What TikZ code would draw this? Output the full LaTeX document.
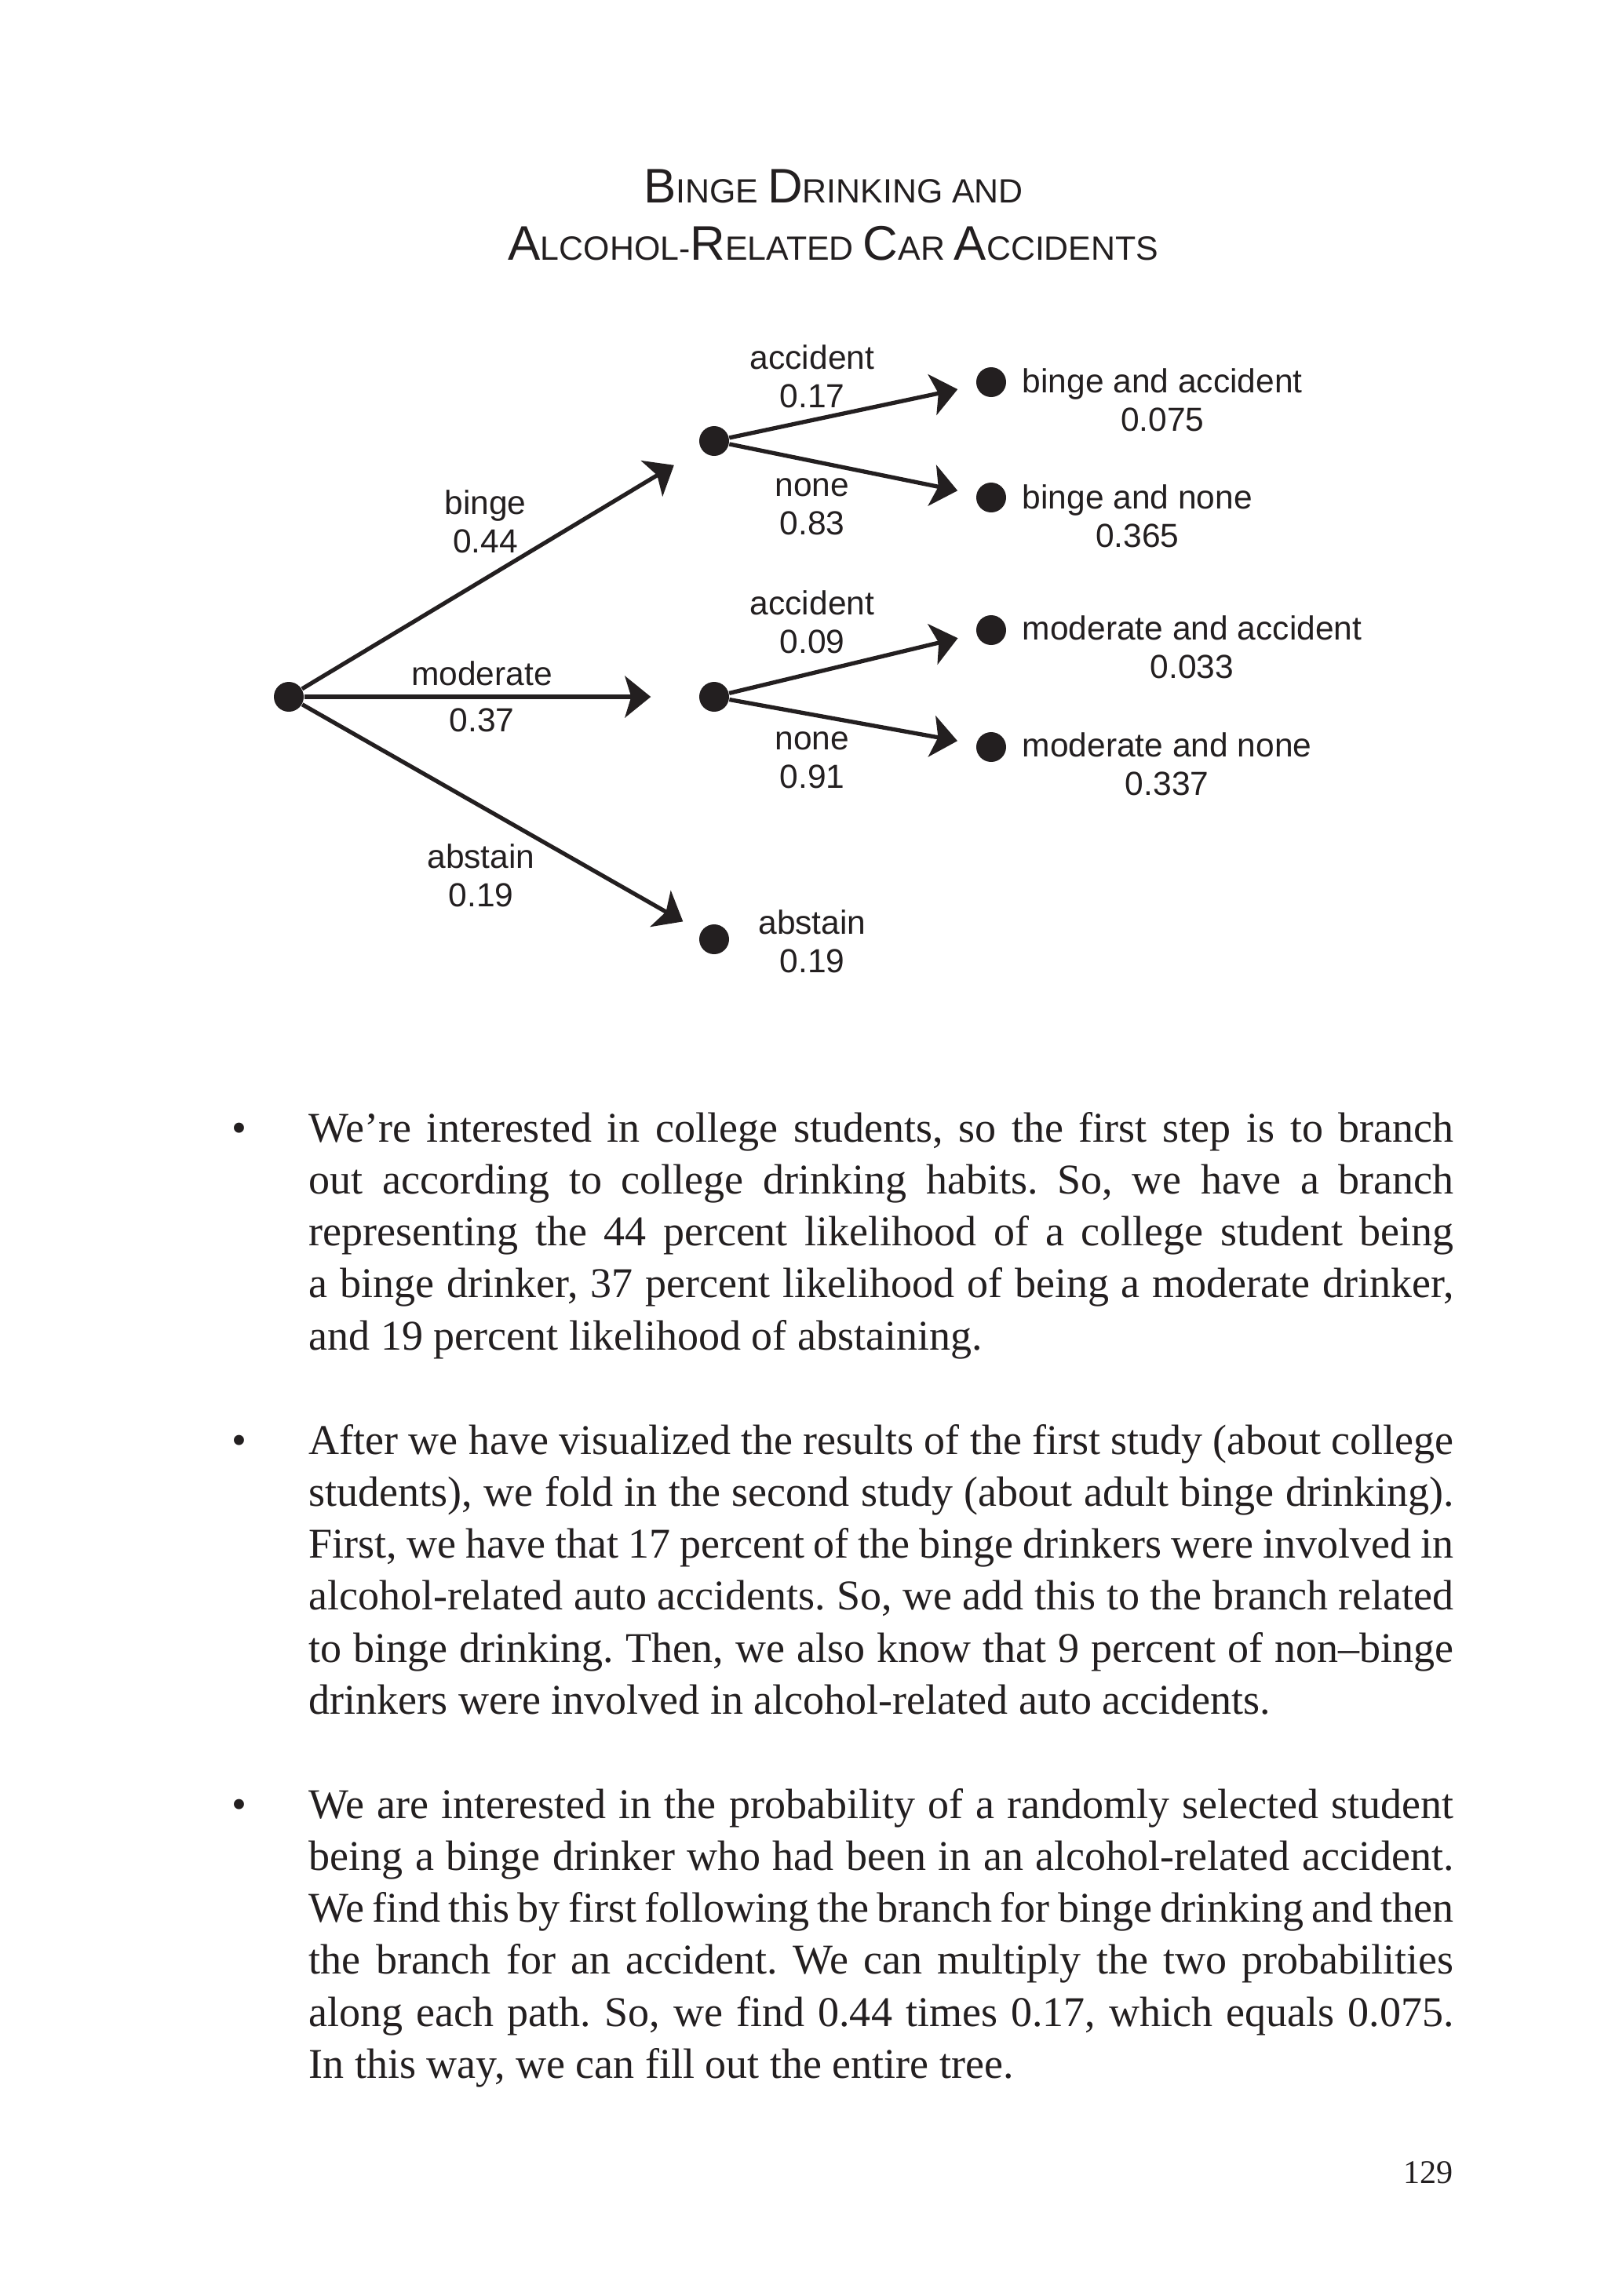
\documentclass[tikz,border=0pt]{standalone}
\usepackage{fontspec}
\setmainfont{Liberation Serif}
\newfontfamily\diagfont{Liberation Sans}
\usetikzlibrary{arrows.meta}
\definecolor{PrintBlack}{RGB}{35,31,32}

\newcommand{\tcap}[1]{{\fontsize{17.6}{20.5}\selectfont #1}}

\tolerance=9999
\hyphenpenalty=10000
\emergencystretch=2em
\frenchspacing

\begin{document}
\begin{tikzpicture}[
    dot/.style={
        circle,
        fill=PrintBlack,
        inner sep=0pt,
        minimum size=3.8mm
    },
    branch/.style={
        -{Stealth[length=3.3mm,width=5.3mm,inset=0.8mm]},
        line width=1.5pt,
        draw=PrintBlack
    },
    lbl/.style={
        align=center,
        inner sep=0pt,
        anchor=base,
        text=PrintBlack,
        font=\diagfont\fontsize{12.1}{13.9}\selectfont
    },
    leaf/.style={
        lbl,
        anchor=base west
    },
    para/.style={
        anchor=base west,
        inner sep=0pt,
        text width=14.59cm,
        align=justify,
        text=PrintBlack,
        font=\fontsize{15.37}{18.86}\selectfont
    },
    bullet/.style={
        anchor=base,
        inner sep=0pt,
        text=PrintBlack,
        font=\fontsize{15.37}{18.86}\selectfont
    }
]
\useasboundingbox (0,0) rectangle (20.48,-29.26);

\node[lbl, font=\diagfont\fontsize{12.2}{20.5}\selectfont] (title) at (10.62,-3.31)
    {\tcap{B}INGE \tcap{D}RINKING AND\\
     \tcap{A}LCOHOL-\tcap{R}ELATED \tcap{C}AR \tcap{A}CCIDENTS};


\node[dot] (root) at (3.68,-8.88) {};

\node[dot] (bdot) at (9.10,-5.62) {};
\node[dot] (mdot) at (9.10,-8.88) {};
\node[dot] (adot) at (9.10,-11.97) {};

\node[dot] (ba) at (12.63,-4.87) {};
\node[dot] (bn) at (12.63,-6.34) {};
\node[dot] (ma) at (12.63,-8.03) {};
\node[dot] (mn) at (12.63,-9.52) {};


\node[lbl] (bingeLbl) at (6.185,-7.04)
    {binge\\0.44};
\node[lbl] (modLbl) at (6.14,-9.32)
    {moderate\\[0.1cm]0.37};
\node[lbl] (absLbl) at (6.13,-11.55)
    {abstain\\0.19};

\node[lbl] (baLbl) at (10.35,-5.19)
    {accident\\0.17};
\node[lbl] (bnLbl) at (10.35,-6.81)
    {none\\0.83};
\node[lbl] (maLbl) at (10.35,-8.32)
    {accident\\0.09};
\node[lbl] (mnLbl) at (10.35,-10.04)
    {none\\0.91};
\node[lbl] (aLbl) at (10.35,-12.39)
    {abstain\\0.19};


\node[leaf] (baLeaf) at (13.02,-5.49)
    {binge and accident\\0.075};
\node[leaf] (bnLeaf) at (13.02,-6.97)
    {binge and none\\0.365};
\node[leaf] (maLeaf) at (13.02,-8.64)
    {moderate and accident\\0.033};
\node[leaf] (mnLeaf) at (13.02,-10.13)
    {moderate and none\\0.337};


\draw[branch, shorten >=4mm] (root) -- (bdot);
\draw[branch, shorten >=6.1mm] (root) -- (mdot);
\draw[branch, shorten >=2.6mm] (root) -- (adot);

\draw[branch, shorten >=2.4mm] (bdot) -- (ba);
\draw[branch, shorten >=2.4mm] (bdot) -- (bn);
\draw[branch, shorten >=2.4mm] (mdot) -- (ma);
\draw[branch, shorten >=2.4mm] (mdot) -- (mn);


\node[bullet] (bul1) at (3.05,-14.55) {\textbullet};
\node[para] (para1) at (3.93,-14.55)
    {We’re interested in college students, so the first step is to branch\linebreak
     out according to college drinking habits. So, we have a branch\linebreak
     representing the 44 percent likelihood of a college student being\linebreak
     a binge drinker, 37 percent likelihood of being a moderate drinker,\linebreak
     and 19 percent likelihood of abstaining.};

\node[bullet] (bul2) at (3.05,-18.53) {\textbullet};
\node[para] (para2) at (3.93,-18.53)
    {After we have visualized the results of the first study (about college\linebreak
     students), we fold in the second study (about adult binge drinking).\linebreak
     First, we have that 17 percent of the binge drinkers were involved in\linebreak
     alcohol-related auto accidents. So, we add this to the branch related\linebreak
     to binge drinking. Then, we also know that 9 percent of non–binge\linebreak
     drinkers were involved in alcohol-related auto accidents.};

\node[bullet] (bul3) at (3.05,-23.17) {\textbullet};
\node[para] (para3) at (3.93,-23.17)
    {We are interested in the probability of a randomly selected student\linebreak
     being a binge drinker who had been in an alcohol-related accident.\linebreak
     We find this by first following the branch for binge drinking and then\linebreak
     the branch for an accident. We can multiply the two probabilities\linebreak
     along each path. So, we find 0.44 times 0.17, which equals 0.075.\linebreak
     In this way, we can fill out the entire tree.};

\node[bullet, anchor=base east, font=\fontsize{12}{14}\selectfont] (pagenum) at (18.52,-27.82)
    {129};

\end{tikzpicture}
\end{document}
